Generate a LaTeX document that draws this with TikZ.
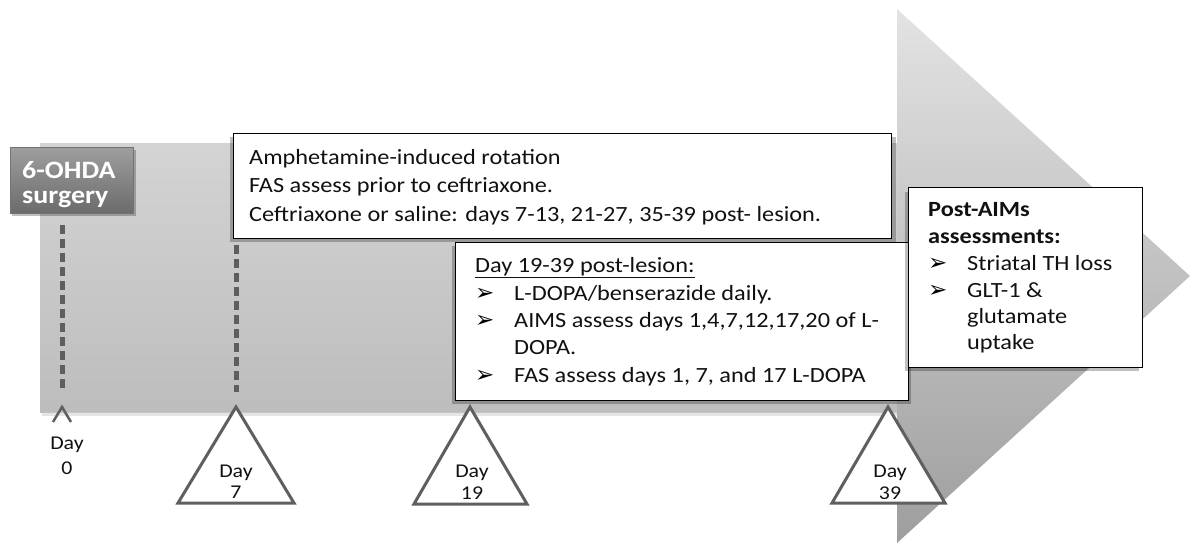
\documentclass[tikz,border=0pt]{standalone}
\usepackage{fontspec}
\setmainfont{Carlito}[FakeStretch=1.12]
\newfontfamily\symfont{DejaVu Sans}
\definecolor{dashgray}{HTML}{5E5E5E}
\definecolor{trigray}{HTML}{5F5F5F}
\definecolor{txtgray}{HTML}{111111}
\begin{document}
\begin{tikzpicture}[x=1pt,y=-1pt,
  txt/.style={anchor=base west, inner sep=0pt, font=\fontsize{21.7}{26}\selectfont, text=txtgray},
  btxt/.style={txt, font=\fontsize{21.7}{26}\selectfont\bfseries},
  bul/.style={anchor=base west, inner sep=0pt, font=\fontsize{23}{24}\symfont\bfseries, text=black},
  daytxt/.style={anchor=base, inner sep=0pt, font=\fontsize{19.5}{22}\selectfont, text=txtgray},
  box/.style={draw=black, line width=1.3pt, fill=white},
  shadowbox/.style={fill=black, opacity=0.25},
  tri/.style={draw=trigray, line width=3pt, fill=white, line join=miter},
  tickline/.style={draw=dashgray, line width=5pt, dash pattern=on 9pt off 5pt},
]
\useasboundingbox (0,0) rectangle (1191,547);

% timeline arrow
\shade[top color=black!17, bottom color=black!26] (40,143) rectangle (900,412);
\fill[black!20, opacity=0.5] (42,412) rectangle (900,416);
\shade[top color=black!11, bottom color=black!38] (897,9) -- (1190,276) -- (897,543) -- cycle;

% 6-OHDA surgery box
\fill[black, opacity=0.25] (12,150) rectangle (136,216);
\node[draw=black!55, line width=0.6pt, top color=black!38, bottom color=black!58,
  anchor=north west, minimum width=123pt, minimum height=66pt, inner sep=0pt] (surg) at (10,147) {};
\node[anchor=base west, inner sep=0pt, font=\fontsize{25}{28}\selectfont\bfseries, text=white] (surgA) at (22,178) {6-OHDA};
\node[anchor=base west, inner sep=0pt, font=\fontsize{25}{28}\selectfont\bfseries, text=white] (surgB) at (22,203) {surgery};

% dashed tick lines
\coordinate (d0top) at (62,225);
\coordinate (d0bot) at (62,392);
\coordinate (d7top) at (236,245);
\coordinate (d7bot) at (236,392);
\draw[tickline] (d0top) -- (d0bot);
\draw[tickline] (d7top) -- (d7bot);

% Day 0 caret
\coordinate (c0l) at (53,422);
\coordinate (c0t) at (62,407);
\coordinate (c0r) at (71,422);
\draw[draw=trigray, line width=2.5pt, line join=miter] (c0l) -- (c0t) -- (c0r);
\node[daytxt] (day0a) at (67,449) {Day};
\node[daytxt] (day0b) at (67,474) {0};

% triangles
\draw[tri] (236,407) -- (294,503) -- (178,503) -- cycle;
\node[daytxt] (day7a) at (236,477) {Day};
\node[daytxt] (day7b) at (236,498) {7};
\draw[tri] (470,407) -- (527,504) -- (414,504) -- cycle;
\node[daytxt] (day19a) at (472,477) {Day};
\node[daytxt] (day19b) at (472,499) {19};
\draw[tri] (888,407) -- (945,503) -- (832,503) -- cycle;
\node[daytxt] (day39a) at (890,477) {Day};
\node[daytxt] (day39b) at (890,499) {39};

% Amphetamine box
\fill[shadowbox] (230,137) rectangle (896,242);
\node[box, anchor=north west, minimum width=658pt, minimum height=105pt, inner sep=0pt] (amph) at (233,133) {};
\node[txt] (amph1) at (249,164) {Amphetamine-induced rotation};
\node[txt] (amph2) at (249,192.5) {FAS assess prior to ceftriaxone.};
\node[txt] (amph3) at (249,221) {Ceftriaxone or saline: days 7-13, 21-27, 35-39 post- lesion.};

% Day 19-39 box
\fill[shadowbox] (452,246) rectangle (911,404);
\node[box, anchor=north west, minimum width=453pt, minimum height=158pt, inner sep=0pt] (ldopa) at (455,242) {};
\node[txt] (ld0) at (475,272) {\underline{Day 19-39 post-lesion:}};
\node[bul] (ldb1) at (475,300) {➢};
\node[txt] (ld1) at (514,300) {L-DOPA/benserazide daily.};
\node[bul] (ldb2) at (475,327) {➢};
\node[txt] (ld2) at (514,327) {AIMS assess days 1,4,7,12,17,20 of L-};
\node[txt] (ld3) at (514,354) {DOPA.};
\node[bul] (ldb4) at (475,382) {➢};
\node[txt] (ld4) at (514,382) {FAS assess days 1, 7, and 17 L-DOPA};

% Post-AIMs box
\fill[shadowbox] (905,192) rectangle (1139,371);
\node[box, anchor=north west, minimum width=234pt, minimum height=180pt, inner sep=0pt] (post) at (908,187) {};
\node[btxt] (post0) at (928,216) {Post-AIMs};
\node[btxt] (post1) at (928,243) {assessments:};
\node[bul] (pb2) at (928,270) {➢};
\node[txt] (post2) at (967,270) {Striatal TH loss};
\node[bul] (pb3) at (928,297) {➢};
\node[txt] (post3) at (967,297) {GLT-1 \&};
\node[txt] (post4) at (967,323) {glutamate};
\node[txt] (post5) at (967,349) {uptake};
\end{tikzpicture}
\end{document}
